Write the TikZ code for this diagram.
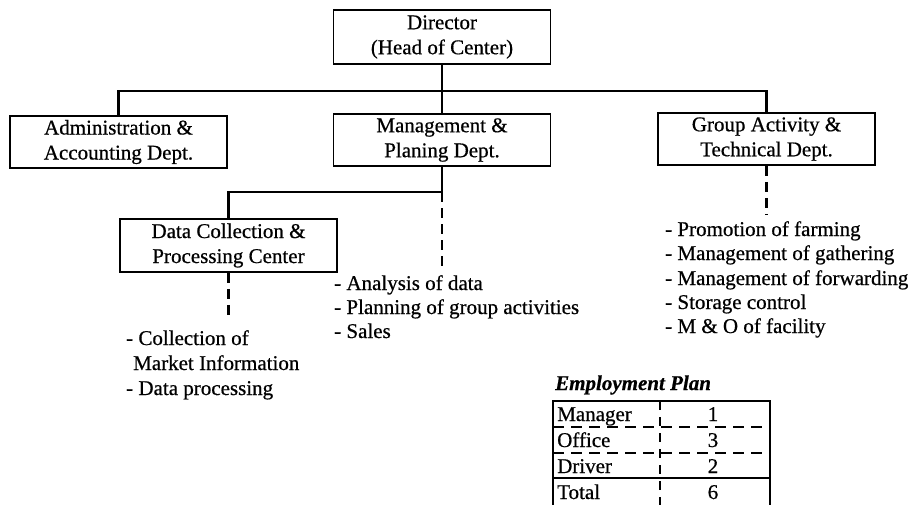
\documentclass[tikz,border=0pt]{standalone}
\usepackage{fontspec}
\setmainfont{Liberation Serif}[FakeBold=0.6]
\begin{document}
\begin{tikzpicture}[x=1pt,y=-1pt,
  txt/.style={font=\fontsize{21}{25}\selectfont, inner sep=0pt},
  unit/.style={txt, draw, line width=1.7pt, align=center,
    minimum width=217pt, minimum height=52pt},
  conn/.style={line width=2.1pt},
  dashconn/.style={line width=2.3pt, dash pattern=on 10pt off 6pt},
  item/.style={txt, anchor=base west},
  cell/.style={txt, anchor=base west},
  num/.style={txt, anchor=base},
  rule/.style={line width=1.7pt},
  dashrule/.style={line width=1.7pt, dash pattern=on 11pt off 7pt}]
\useasboundingbox (0,0) rectangle (913,504);

% organisational units
\node[unit, minimum height=54pt] (dir)  at (442,37)    {Director\\(Head of Center)};
\node[unit] (adm)  at (118.5,142)  {Administration \&\\Accounting Dept.};
\node[unit] (mgmt) at (442,140)    {Management \&\\Planing Dept.};
\node[unit] (grp)  at (766.5,139)  {Group Activity \&\\Technical Dept.};
\node[unit, minimum height=53pt] (data) at (228.5,245.5) {Data Collection \&\\Processing Center};

% reporting lines
\coordinate (bus)  at (442,91);
\coordinate (bus2) at (442,192);
\draw[conn] (dir.south) -- (mgmt.north);
\draw[conn] (adm.north) -- (adm.north |- bus) -- (grp.north |- bus) -- (grp.north);
\draw[conn] (mgmt.south) -- (bus2) -| (data.north);

% duty lists hang from dashed lines
\coordinate (mgmtEnd) at (442,268);
\coordinate (dataEnd) at (228.5,320);
\coordinate (grpEnd)  at (766.5,214);
\draw[dashconn] (bus2) -- (mgmtEnd);
\draw[dashconn] (data.south) -- (dataEnd);
\draw[dashconn] (grp.south) -- (grpEnd);

\node[item] (ana1) at (334,290) {- Analysis of data};
\node[item] (ana2) at (334,314) {- Planning of group activities};
\node[item] (ana3) at (334,338) {- Sales};

\node[item] (col1) at (126,345) {- Collection of};
\node[item] (col2) at (133,370) {Market Information};
\node[item] (col3) at (126,395) {- Data processing};

\node[item] (grp1) at (665,236) {- Promotion of farming};
\node[item] (grp2) at (665,260) {- Management of gathering};
\node[item] (grp3) at (665,285) {- Management of forwarding};
\node[item] (grp4) at (665,309) {- Storage control};
\node[item] (grp5) at (665,333) {- M \& O of facility};

% employment plan table
\node[item, font=\fontsize{21}{25}\selectfont\bfseries\itshape] (plan) at (555,390) {Employment Plan};
\draw[rule] (553,506) -- (553,401) -- (770,401) -- (770,506);
\draw[dashrule] (553,427) -- (770,427);
\draw[dashrule] (553,453) -- (770,453);
\draw[rule] (553,478) -- (770,478);
\draw[line width=1.7pt, dash pattern=on 9pt off 7pt] (660,401) -- (660,506);

\node[cell] (r1) at (557,421) {Manager};
\node[cell] (r2) at (557,447) {Office};
\node[cell] (r3) at (557,473) {Driver};
\node[cell] (r4) at (557,499) {Total};
\node[num] (n1) at (713,421) {1};
\node[num] (n2) at (713,447) {3};
\node[num] (n3) at (713,473) {2};
\node[num] (n4) at (713,499) {6};
\end{tikzpicture}
\end{document}
